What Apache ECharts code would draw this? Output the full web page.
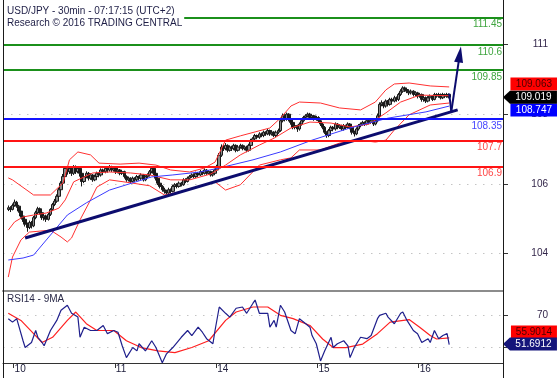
<!DOCTYPE html>
<html><head><meta charset="utf-8">
<script src="https://cdn.jsdelivr.net/npm/echarts@6/dist/echarts.min.js"></script>
<style>html,body{margin:0;padding:0;background:#fff}#c{width:557px;height:378px}</style>
</head><body><div id="c"></div>
<script>
// ---- time axis (30-min bars) ----
const sessionDays = ['09','10','11','14','15','16'];
const sessionStart = ['21:30','00:00','00:00','00:00','00:00','00:00'];
const sessionBars = [5,48,48,48,48,40];
const dayLabels = ['10','11','14','15','16'];
const dataStart = '09 22:30';

// ---- USD/JPY 30-min OHLC ----
const opens = [
105.60,105.65,105.60,105.72,105.82,105.70,105.55,105.40,105.30,105.15,
105.05,105.20,105.10,105.35,105.50,105.62,105.50,105.35,105.40,105.30,
105.45,105.60,105.75,105.85,106.00,106.20,106.40,106.60,106.85,106.75,
106.85,106.70,106.90,106.75,106.85,106.70,106.45,106.60,106.70,106.55,
106.65,106.50,106.60,106.70,106.65,106.80,106.75,106.85,106.80,106.90,
106.80,106.85,106.75,106.80,106.70,106.75,106.60,106.50,106.55,106.45,
106.55,106.50,106.60,106.55,106.65,106.50,106.60,106.65,106.75,106.85,
106.70,106.55,106.40,106.30,106.20,106.15,106.10,106.20,106.15,106.30,
106.35,106.30,106.40,106.35,106.50,106.45,106.55,106.60,106.65,106.60,
106.70,106.65,106.75,106.70,106.80,106.70,106.75,106.65,106.70,106.80,
106.90,107.25,107.50,107.45,107.55,107.40,107.50,107.45,107.55,107.40,
107.50,107.55,107.45,107.50,107.40,107.55,107.70,107.75,107.85,107.80,
107.90,107.85,107.95,107.90,108.00,107.90,107.95,107.85,107.95,108.00,
108.30,108.45,108.35,108.50,108.35,108.25,108.10,108.15,108.05,108.20,
108.30,108.40,108.45,108.50,108.40,108.45,108.35,108.40,108.30,108.20,
108.10,107.95,107.85,108.00,108.10,108.05,108.20,108.10,108.15,108.05,
108.15,108.10,108.20,108.10,107.95,107.90,108.05,108.15,108.20,108.25,
108.20,108.30,108.25,108.30,108.20,108.30,108.45,108.80,108.85,108.75,
108.90,108.80,108.95,108.90,109.00,108.95,109.10,109.20,109.30,109.25,
109.20,109.15,109.20,109.10,109.15,109.05,109.10,108.95,109.00,108.90,
109.00,109.05,108.95,109.10,109.05,109.10,109.00,109.10,109.05,109.10];
const closes = [
105.65,105.60,105.72,105.82,105.70,105.55,105.40,105.30,105.15,105.05,
105.20,105.10,105.35,105.50,105.62,105.50,105.35,105.40,105.30,105.45,
105.60,105.75,105.85,106.00,106.20,106.40,106.60,106.85,106.75,106.85,
106.70,106.90,106.75,106.85,106.70,106.45,106.60,106.70,106.55,106.65,
106.50,106.60,106.70,106.65,106.80,106.75,106.85,106.80,106.90,106.80,
106.85,106.75,106.80,106.70,106.75,106.60,106.50,106.55,106.45,106.55,
106.50,106.60,106.55,106.65,106.50,106.60,106.65,106.75,106.85,106.70,
106.55,106.40,106.30,106.20,106.15,106.10,106.20,106.15,106.30,106.35,
106.30,106.40,106.35,106.50,106.45,106.55,106.60,106.65,106.60,106.70,
106.65,106.75,106.70,106.80,106.70,106.75,106.65,106.70,106.80,106.90,
107.25,107.50,107.45,107.55,107.40,107.50,107.45,107.55,107.40,107.50,
107.55,107.45,107.50,107.40,107.55,107.70,107.75,107.85,107.80,107.90,
107.85,107.95,107.90,108.00,107.90,107.95,107.85,107.95,108.00,108.30,
108.45,108.35,108.50,108.35,108.25,108.10,108.15,108.05,108.20,108.30,
108.40,108.45,108.50,108.40,108.45,108.35,108.40,108.30,108.20,108.10,
107.95,107.85,108.00,108.10,108.05,108.20,108.10,108.15,108.05,108.15,
108.10,108.20,108.10,107.95,107.90,108.05,108.15,108.20,108.25,108.20,
108.30,108.25,108.30,108.20,108.30,108.45,108.80,108.85,108.75,108.90,
108.80,108.95,108.90,109.00,108.95,109.10,109.20,109.30,109.25,109.20,
109.15,109.20,109.10,109.15,109.05,109.10,108.95,109.00,108.90,109.00,
109.05,108.95,109.10,109.05,109.10,109.00,109.10,109.05,109.10,109.019];
const lows = [
105.55,105.52,105.57,105.68,105.65,105.50,105.35,105.22,105.08,104.92,
105.00,105.02,105.06,105.30,105.45,105.44,105.28,105.26,105.22,105.26,
105.40,105.55,105.70,105.80,105.95,106.15,106.35,106.55,106.66,106.68,
106.62,106.65,106.68,106.70,106.60,106.30,106.40,106.55,106.48,106.50,
106.44,106.46,106.55,106.58,106.60,106.68,106.70,106.72,106.75,106.74,
106.75,106.68,106.70,106.64,106.65,106.54,106.44,106.45,106.40,106.42,
106.44,106.46,106.48,106.50,106.45,106.46,106.55,106.60,106.70,106.64,
106.48,106.34,106.24,106.14,106.08,106.04,106.06,106.08,106.12,106.24,
106.24,106.26,106.30,106.32,106.40,106.42,106.50,106.56,106.55,106.56,
106.60,106.62,106.64,106.66,106.65,106.66,106.60,106.60,106.66,106.75,
106.86,107.20,107.38,107.40,107.34,107.36,107.38,107.40,107.34,107.36,
107.45,107.40,107.40,107.34,107.36,107.50,107.65,107.70,107.74,107.75,
107.80,107.80,107.84,107.86,107.84,107.85,107.80,107.80,107.90,107.96,
108.25,108.28,108.30,108.28,108.18,108.04,108.04,107.96,108.00,108.15,
108.25,108.35,108.40,108.34,108.35,108.30,108.30,108.24,108.14,108.04,
107.90,107.78,107.80,107.95,107.98,108.00,108.04,108.05,108.00,108.00,
108.04,108.06,108.04,107.88,107.82,107.86,108.00,108.10,108.15,108.14,
108.16,108.20,108.20,108.14,108.16,108.25,108.40,108.74,108.68,108.70,
108.74,108.76,108.84,108.86,108.88,108.90,109.05,109.15,109.18,109.14,
109.08,109.10,109.04,109.05,108.98,109.00,108.88,108.88,108.84,108.86,
108.95,108.90,108.92,109.00,109.00,108.95,108.96,109.00,109.00,108.98];
const highs = [
105.72,105.70,105.78,105.90,105.86,105.74,105.60,105.45,105.34,105.20,
105.26,105.25,105.40,105.56,105.68,105.66,105.54,105.46,105.44,105.50,
105.64,105.80,105.92,106.06,106.26,106.46,106.68,106.92,106.90,106.92,
106.90,106.95,106.94,106.92,106.88,106.74,106.66,106.76,106.74,106.70,
106.68,106.66,106.75,106.74,106.85,106.84,106.90,106.88,106.95,106.93,
106.90,106.88,106.85,106.83,106.80,106.78,106.64,106.60,106.58,106.60,
106.58,106.65,106.63,106.70,106.68,106.64,106.70,106.80,106.90,106.88,
106.74,106.58,106.45,106.34,106.26,106.20,106.26,106.24,106.35,106.40,
106.40,106.45,106.44,106.55,106.55,106.60,106.65,106.70,106.70,106.75,
106.74,106.80,106.78,106.85,106.83,106.80,106.78,106.75,106.84,106.96,
107.32,107.58,107.56,107.62,107.58,107.55,107.54,107.60,107.58,107.55,
107.60,107.58,107.55,107.54,107.60,107.75,107.80,107.90,107.88,107.95,
107.94,108.00,107.98,108.05,108.03,108.00,107.98,108.00,108.06,108.36,
108.52,108.50,108.55,108.53,108.40,108.28,108.20,108.18,108.25,108.35,
108.45,108.50,108.55,108.54,108.50,108.48,108.45,108.44,108.34,108.24,
108.14,107.98,108.05,108.15,108.14,108.25,108.23,108.20,108.18,108.20,
108.18,108.25,108.23,108.13,108.00,108.10,108.20,108.25,108.30,108.28,
108.35,108.34,108.35,108.33,108.35,108.52,108.86,108.92,108.88,108.95,
108.93,109.00,109.00,109.06,109.04,109.15,109.26,109.35,109.34,109.30,
109.24,109.25,109.23,109.20,109.18,109.15,109.13,109.05,109.04,109.05,
109.10,109.08,109.15,109.14,109.15,109.13,109.15,109.13,109.15,109.13];

// ---- indicators, read at bar index: [bar, value] ----
const bbUpper = [[2,106.56],[4,106.50],[14,106.04],[22,106.04],[28,106.41],[31,107.11],[35,107.35],[41,107.26],[45,107.01],[55,106.98],[64,107.01],[72,106.95],[79,106.80],[88,106.74],[95,106.86],[100,107.04],[105,107.71],[112,107.84],[119,107.96],[126,108.08],[131,108.38],[136,108.75],[140,108.87],[150,108.84],[159,108.69],[169,108.63],[176,108.87],[181,109.24],[185,109.42],[192,109.45],[202,109.36],[211,109.33]];
const bbMiddle = [[2,104.97],[5,105.22],[9,105.37],[14,105.43],[20,105.49],[26,105.64],[29,105.89],[33,106.44],[42,106.71],[50,106.74],[60,106.71],[69,106.65],[79,106.50],[88,106.50],[98,106.68],[105,106.95],[112,107.26],[121,107.56],[128,107.77],[136,108.08],[145,108.26],[155,108.23],[164,108.11],[173,108.20],[181,108.54],[188,108.87],[197,109.08],[211,109.063]];
const bbLower = [[2,103.54],[4,104.15],[8,104.67],[12,104.91],[22,104.97],[27,104.76],[30,104.61],[32,104.73],[36,105.28],[41,105.89],[44,106.28],[50,106.50],[60,106.41],[69,106.32],[76,106.04],[83,106.13],[93,106.32],[100,106.44],[105,106.19],[112,106.35],[121,106.95],[131,107.11],[136,107.17],[140,107.41],[150,107.41],[159,107.62],[169,107.71],[176,107.65],[181,107.71],[185,108.02],[192,108.48],[202,108.78],[211,108.84]];
const maBlue = [[2,104.06],[9,104.12],[14,104.21],[22,104.82],[30,105.43],[39,105.80],[50,106.19],[61,106.41],[70,106.59],[80,106.65],[93,106.74],[102,106.86],[118,107.11],[131,107.35],[146,107.71],[164,108.08],[182,108.38],[200,108.57],[211,108.747]];
const trendLine = [[10,104.73],[215,108.63]];
const projection = [[211,109.13],[212,108.58],[216,110.32]];
const levelValues = [111.45,110.6,109.85,108.35,107.7,106.9];
const levelKinds = ['res','res','res','pivot','sup','sup'];
const priceTickValues = [104.26,106.37,108.5,110.64];
const priceTickLabels = ['104','106','108','111'];

// ---- RSI(14) and its 9MA ----
const rsi = [[2,68.1],[4,65.9],[6,68.1],[9,54.1],[10,49.8],[13,53.0],[15,60.6],[16,56.3],[18,53.0],[19,50.9],[22,60.6],[25,67.0],[27,73.4],[30,76.6],[32,71.5],[35,69.1],[36,56.3],[38,62.7],[41,60.6],[44,60.6],[47,63.8],[49,58.6],[52,60.6],[54,59.5],[56,50.9],[58,43.4],[61,49.8],[63,47.7],[64,52.2],[67,47.7],[70,54.1],[72,49.8],[75,40.2],[77,45.8],[80,49.8],[84,56.3],[87,60.6],[89,57.4],[92,62.7],[94,59.5],[96,55.4],[99,52.2],[100,60.6],[102,75.5],[105,71.5],[107,69.1],[110,74.7],[113,75.5],[115,71.5],[118,77.9],[119,79.9],[121,71.5],[125,71.5],[126,62.7],[128,67.0],[129,62.7],[131,76.6],[133,72.3],[136,60.6],[138,58.6],[140,68.1],[143,64.9],[145,62.7],[146,57.4],[148,52.2],[150,41.3],[152,47.7],[155,56.3],[156,49.8],[158,52.2],[161,54.1],[163,50.9],[164,43.4],[166,49.8],[169,56.3],[172,55.4],[174,57.4],[177,68.1],[178,70.2],[181,71.5],[182,69.1],[185,64.9],[188,71.5],[189,72.3],[191,67.0],[194,60.6],[196,58.6],[198,53.0],[201,55.4],[202,53.0],[204,60.6],[206,55.4],[208,57.4],[210,58.6],[211,51.6912]];
const rsiMA = [[2,71.5],[8,67.0],[14,58.6],[18,53.0],[23,56.3],[30,67.0],[34,72.3],[39,64.9],[44,60.6],[52,60.6],[58,54.1],[65,49.8],[73,47.7],[81,46.6],[89,49.8],[97,54.1],[105,67.0],[110,72.3],[118,75.5],[125,75.5],[131,70.2],[137,68.1],[145,63.8],[151,55.2],[156,49.8],[162,49.8],[170,52.0],[177,58.6],[183,65.9],[192,67.5],[197,62.7],[202,57.4],[205,55.2],[211,55.9014]];
const rsiTickValues = [50,70];

// ---- build categories ----
const categories = [];
const dayStartIdx = [];
sessionDays.forEach((d, i) => {
  const [h, m] = sessionStart[i].split(':').map(Number);
  const t0 = h * 60 + m;
  if (dayLabels.includes(d)) dayStartIdx.push(categories.length);
  for (let k = 0; k < sessionBars[i]; k++) {
    const t = t0 + k * 30;
    categories.push(d + ' ' + String(Math.floor(t / 60)).padStart(2, '0') + ':' + String(t % 60).padStart(2, '0'));
  }
});
const s0 = categories.indexOf(dataStart);
const candles = [];
for (let i = 0; i < s0; i++) candles.push('-');
opens.forEach((o, k) => candles.push([o, closes[k], lows[k], highs[k]]));
const lastCat = categories.length - 1;
const lastClose = closes[closes.length - 1];
const bbMidLast = bbMiddle[bbMiddle.length - 1][1];
const maLast = maBlue[maBlue.length - 1][1];
const rsiLast = rsi[rsi.length - 1][1];
const rsiMALast = rsiMA[rsiMA.length - 1][1];

const FONT = 'Liberation Sans, Arial, sans-serif';
const kindColor = {res: '#1b901b', pivot: '#1414ff', sup: '#ff1414'};
const kindLabel = {res: '#3fa53f', pivot: '#4646ff', sup: '#ff4646'};

const chart = echarts.init(document.getElementById('c'));
chart.setOption({
  animation: false,
  textStyle: {fontFamily: FONT},
  title: [
    {text: 'USD/JPY - 30min - 07:17:15 (UTC+2)\nResearch © 2016 TRADING CENTRAL', left: 3, top: 0,
     padding: [5, 2, 3, 4], backgroundColor: '#ffffff', z: 20,
     textStyle: {fontSize: 10, fontWeight: 'normal', color: '#1e1e46', lineHeight: 12, fontFamily: FONT}},
    {text: 'RSI14 - 9MA', left: 3, top: 293, padding: [0, 0, 0, 4],
     textStyle: {fontSize: 10, fontWeight: 'normal', color: '#2a2a48', lineHeight: 12, fontFamily: FONT}}
  ],
  grid: [
    {left: 3, right: 54, top: 0, height: 291},
    {left: 3, right: 54, top: 292, height: 71}
  ],
  xAxis: [
    {type: 'category', gridIndex: 0, data: categories, boundaryGap: true,
     axisLine: {show: true, lineStyle: {color: '#8c8c8c', width: 2}},
     axisTick: {show: false}, axisLabel: {show: false}, splitLine: {show: false}},
    {type: 'category', gridIndex: 1, data: categories, boundaryGap: true,
     axisLine: {show: true, lineStyle: {color: '#333333', width: 1}},
     axisTick: {show: true, length: 5, interval: (i) => dayStartIdx.includes(i), lineStyle: {color: '#333333'}},
     axisLabel: {show: true, interval: (i) => dayStartIdx.includes(i), formatter: (v) => v.slice(0, 2),
       align: 'left', margin: 1, fontSize: 10, color: '#22223f', fontFamily: FONT},
     splitLine: {show: false}}
  ],
  yAxis: [
    {type: 'value', gridIndex: 0, position: 'right', min: 103.116, max: 111.977, scale: true,
     axisLine: {show: false},
     axisTick: {show: true, length: 5, customValues: priceTickValues, lineStyle: {color: '#333333'}},
     axisLabel: {show: true, customValues: priceTickValues, align: 'right', margin: 45, fontSize: 10, color: '#33264a', fontFamily: FONT,
       formatter: (v) => { let b = 0; priceTickValues.forEach((t, i) => { if (Math.abs(t - v) < Math.abs(priceTickValues[b] - v)) b = i; }); return priceTickLabels[b]; }},
     splitLine: {show: true, lineStyle: {color: '#c4c4c4', width: 1, type: [1.5, 6.5]}}},
    {type: 'value', gridIndex: 1, position: 'right', min: 40, max: 85,
     axisLine: {show: false},
     axisTick: {show: true, length: 5, customValues: rsiTickValues, lineStyle: {color: '#333333'}},
     axisLabel: {show: true, customValues: rsiTickValues, align: 'right', margin: 45, fontSize: 10, color: '#33264a', fontFamily: FONT},
     splitLine: {show: true, lineStyle: {color: '#c4c4c4', width: 1, type: [1.5, 6.5]}}}
  ],
  graphic: [
    {type: 'line', z: 100, shape: {x1: 3.5, y1: 0, x2: 3.5, y2: 378}, style: {stroke: '#1a1a1a', lineWidth: 1}},
    {type: 'line', z: 100, shape: {x1: 503.5, y1: 0, x2: 503.5, y2: 378}, style: {stroke: '#1a1a1a', lineWidth: 1}}
  ],
  series: [
    {name: 'levels', type: 'line', xAxisIndex: 0, yAxisIndex: 0, z: 1, data: [], silent: true,
     markLine: {silent: true, symbol: ['none', 'none'], animation: false,
       data: levelValues.map((v, i) => ({yAxis: v,
         lineStyle: {color: kindColor[levelKinds[i]], width: 2.2, type: 'solid'},
         label: {show: true, position: 'insideEndBottom', distance: [1, 2], formatter: String(v), color: kindLabel[levelKinds[i]], fontSize: 10, fontFamily: FONT}}))}},
    {name: 'USD/JPY', type: 'candlestick', xAxisIndex: 0, yAxisIndex: 0, z: 2, data: candles, barWidth: 3,
     itemStyle: {color: '#8a8a8a', color0: '#1a1a1a', borderColor: '#1a1a1a', borderColor0: '#1a1a1a', borderWidth: 1},
     markPoint: {silent: true, animation: false, data: [
       {coord: [lastCat, bbMidLast], symbol: 'rect', symbolSize: [47, 13], symbolOffset: [32, -11.6], itemStyle: {color: '#ff0000'},
        label: {show: true, position: 'inside', formatter: bbMidLast.toFixed(3), color: '#4a0000', fontSize: 10, fontFamily: FONT}},
       {coord: [lastCat, maLast], symbol: 'rect', symbolSize: [47, 13], symbolOffset: [32, 3.9], itemStyle: {color: '#0000ff'},
        label: {show: true, position: 'inside', formatter: maLast.toFixed(3), color: '#ffffff', fontSize: 10, fontFamily: FONT}},
       {coord: [lastCat, lastClose], symbol: 'path://M0,6.5L7,0L54,0L54,13L7,13Z', symbolSize: [54, 13], symbolOffset: [28, 0], itemStyle: {color: '#000000'},
        label: {show: true, position: 'inside', offset: [3.5, 0], formatter: lastClose.toFixed(3), color: '#ffffff', fontSize: 10, fontFamily: FONT}}
     ]}},
    {name: 'BB upper', type: 'line', xAxisIndex: 0, yAxisIndex: 0, z: 3, data: bbUpper, showSymbol: false, lineStyle: {color: '#ff3030', width: 1}},
    {name: 'BB middle', type: 'line', xAxisIndex: 0, yAxisIndex: 0, z: 3, data: bbMiddle, showSymbol: false, lineStyle: {color: '#ff3030', width: 1}},
    {name: 'BB lower', type: 'line', xAxisIndex: 0, yAxisIndex: 0, z: 3, data: bbLower, showSymbol: false, lineStyle: {color: '#ff3030', width: 1}},
    {name: 'MA', type: 'line', xAxisIndex: 0, yAxisIndex: 0, z: 3, data: maBlue, showSymbol: false, lineStyle: {color: '#3a3aff', width: 1}},
    {name: 'Trend', type: 'line', xAxisIndex: 0, yAxisIndex: 0, z: 4, data: trendLine, showSymbol: false, lineStyle: {color: '#0c0c6e', width: 3}},
    {name: 'Projection', type: 'line', xAxisIndex: 0, yAxisIndex: 0, z: 4, data: projection.slice(0, 2), showSymbol: false, lineStyle: {color: '#0c0c6e', width: 2},
     markLine: {silent: true, animation: false, symbol: ['none', 'triangle'], symbolSize: [9, 16],
       lineStyle: {color: '#0c0c6e', width: 2, type: 'solid'}, label: {show: false},
       data: [[{coord: projection[1]}, {coord: projection[2]}]]}},
    {name: 'RSI', type: 'line', xAxisIndex: 1, yAxisIndex: 1, z: 3, data: rsi, showSymbol: false, lineStyle: {color: '#1f1f8c', width: 1.2},
     markPoint: {silent: true, animation: false, data: [
       {coord: [lastCat, rsiMALast], symbol: 'rect', symbolSize: [46, 13], symbolOffset: [32, -6], itemStyle: {color: '#ff0000'},
        label: {show: true, position: 'inside', formatter: rsiMALast.toFixed(4), color: '#4a0000', fontSize: 10, fontFamily: FONT}},
       {coord: [lastCat, rsiLast], symbol: 'path://M0,6.5L7,0L54,0L54,13L7,13Z', symbolSize: [54, 13], symbolOffset: [28, -0.5], itemStyle: {color: '#14147a'},
        label: {show: true, position: 'inside', offset: [3.5, 0], formatter: rsiLast.toFixed(4), color: '#ffffff', fontSize: 10, fontFamily: FONT}}
     ]}},
    {name: 'RSI MA', type: 'line', xAxisIndex: 1, yAxisIndex: 1, z: 2, data: rsiMA, showSymbol: false, lineStyle: {color: '#ff2020', width: 1.2}}
  ]
});
</script></body></html>
